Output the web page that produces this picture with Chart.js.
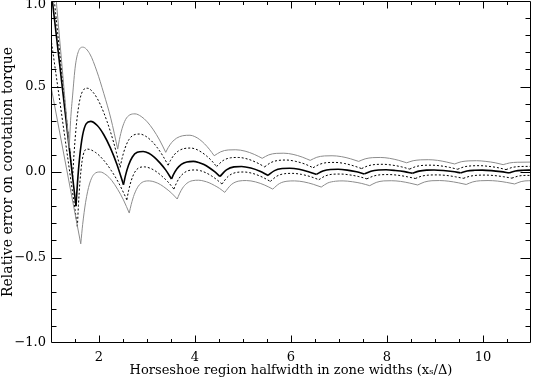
<!DOCTYPE html>
<html><head><meta charset="utf-8">
<script src="https://cdn.jsdelivr.net/npm/chart.js@4.4.1/dist/chart.umd.min.js"></script>
<style>html,body{margin:0;padding:0;background:#fff;}canvas{display:block;}</style>
</head><body>
<canvas id="c" width="533" height="378"></canvas>
<script>
// Tick labels
const xTickValues = [2, 4, 6, 8, 10];
const yTickValues = [-1, -0.5, 0, 0.5, 1];

// Upper grey curve
const G1_x = [1.0, 1.38, 1.408, 1.451, 1.507, 1.578, 1.663, 1.808, 1.954, 2.099, 2.245, 2.39, 2.426, 2.48, 2.552, 2.642, 2.75, 2.878, 3.006, 3.134, 3.262, 3.39, 3.44, 3.516, 3.617, 3.744, 3.895, 3.996, 4.097, 4.198, 4.299, 4.40, 4.535, 4.693, 4.85, 5.043, 5.235, 5.40, 5.535, 5.693, 5.85, 6.043, 6.235, 6.40, 6.537, 6.696, 6.855, 7.049, 7.244, 7.41, 7.545, 7.703, 7.86, 8.053, 8.245, 8.41, 8.545, 8.703, 8.86, 9.053, 9.245, 9.41, 9.547, 9.706, 9.865, 10.059, 10.254, 10.42, 10.555, 10.713, 11.0];
const G1_y = [1.35, 0.14, 0.300, 0.45, 0.62, 0.710, 0.73, 0.691, 0.59, 0.46, 0.315, 0.134, 0.190, 0.253, 0.306, 0.334, 0.34, 0.325, 0.293, 0.246, 0.187, 0.115, 0.142, 0.173, 0.198, 0.212, 0.215, 0.207, 0.190, 0.165, 0.133, 0.095, 0.118, 0.129, 0.13, 0.122, 0.103, 0.08, 0.100, 0.109, 0.11, 0.103, 0.087, 0.068, 0.086, 0.094, 0.095, 0.090, 0.077, 0.062, 0.077, 0.084, 0.085, 0.080, 0.068, 0.054, 0.066, 0.071, 0.072, 0.068, 0.058, 0.047, 0.060, 0.065, 0.066, 0.062, 0.054, 0.043, 0.053, 0.057, 0.058];

// Upper dashed curve
const D1_x = [1.0, 1.45, 1.481, 1.527, 1.588, 1.665, 1.757, 1.894, 2.030, 2.167, 2.303, 2.44, 2.481, 2.543, 2.625, 2.727, 2.85, 2.968, 3.086, 3.204, 3.322, 3.44, 3.488, 3.559, 3.654, 3.773, 3.915, 4.022, 4.129, 4.236, 4.343, 4.45, 4.585, 4.743, 4.90, 5.093, 5.285, 5.45, 5.587, 5.746, 5.905, 6.099, 6.294, 6.46, 6.597, 6.756, 6.915, 7.109, 7.304, 7.47, 7.605, 7.763, 7.92, 8.113, 8.305, 8.47, 8.605, 8.763, 8.92, 9.113, 9.305, 9.47, 9.607, 9.766, 9.925, 10.119, 10.314, 10.48, 10.615, 10.773, 11.0];
const D1_y = [1.19, -0.03, 0.111, 0.271, 0.404, 0.476, 0.49, 0.460, 0.393, 0.296, 0.175, 0.027, 0.080, 0.140, 0.190, 0.217, 0.222, 0.210, 0.184, 0.146, 0.098, 0.04, 0.067, 0.098, 0.123, 0.137, 0.14, 0.133, 0.117, 0.095, 0.067, 0.032, 0.067, 0.083, 0.085, 0.076, 0.055, 0.03, 0.056, 0.068, 0.07, 0.062, 0.046, 0.025, 0.045, 0.055, 0.056, 0.050, 0.036, 0.02, 0.036, 0.044, 0.045, 0.040, 0.030, 0.017, 0.032, 0.039, 0.04, 0.036, 0.027, 0.016, 0.030, 0.036, 0.037, 0.033, 0.025, 0.014, 0.027, 0.032, 0.033];

// Central solid curve
const C_x = [1.0, 1.52, 1.551, 1.597, 1.658, 1.735, 1.827, 1.964, 2.100, 2.237, 2.374, 2.51, 2.551, 2.613, 2.695, 2.797, 2.92, 3.038, 3.156, 3.274, 3.392, 3.51, 3.556, 3.624, 3.715, 3.829, 3.965, 4.076, 4.187, 4.298, 4.409, 4.52, 4.655, 4.813, 4.97, 5.163, 5.355, 5.52, 5.657, 5.816, 5.975, 6.169, 6.364, 6.53, 6.665, 6.823, 6.98, 7.173, 7.365, 7.53, 7.665, 7.823, 7.98, 8.173, 8.365, 8.53, 8.665, 8.823, 8.98, 9.173, 9.365, 9.53, 9.667, 9.826, 9.985, 10.179, 10.373, 10.54, 10.675, 10.833, 11.0];
const C_y = [1.07, -0.20, -0.066, 0.087, 0.214, 0.283, 0.296, 0.272, 0.218, 0.141, 0.044, -0.074, -0.021, 0.038, 0.088, 0.115, 0.12, 0.110, 0.086, 0.052, 0.011, -0.041, -0.013, 0.019, 0.045, 0.059, 0.062, 0.056, 0.044, 0.025, 0.002, -0.026, 0.012, 0.030, 0.032, 0.023, 0.004, -0.020, 0.008, 0.020, 0.022, 0.016, 0.002, -0.014, 0.006, 0.015, 0.016, 0.011, 0.001, -0.011, 0.005, 0.012, 0.013, 0.009, 0.002, -0.008, 0.005, 0.011, 0.012, 0.009, 0.003, -0.005, 0.006, 0.010, 0.011, 0.008, 0.002, -0.005, 0.006, 0.010, 0.011];

// Lower dashed curve
const D2_x = [1.0, 1.55, 1.571, 1.603, 1.645, 1.697, 1.76, 1.924, 2.088, 2.252, 2.416, 2.58, 2.616, 2.671, 2.743, 2.834, 2.943, 3.066, 3.19, 3.313, 3.437, 3.56, 3.605, 3.673, 3.763, 3.875, 4.01, 4.12, 4.23, 4.34, 4.45, 4.56, 4.697, 4.856, 5.015, 5.209, 5.404, 5.57, 5.707, 5.866, 6.025, 6.219, 6.414, 6.58, 6.715, 6.873, 7.03, 7.223, 7.415, 7.58, 7.717, 7.876, 8.035, 8.229, 8.424, 8.59, 8.725, 8.883, 9.04, 9.233, 9.425, 9.59, 9.727, 9.886, 10.045, 10.239, 10.434, 10.6, 10.735, 10.893, 11.0];
const D2_y = [0.78, -0.32, -0.197, -0.058, 0.059, 0.122, 0.134, 0.115, 0.072, 0.010, -0.067, -0.162, -0.110, -0.051, -0.002, 0.025, 0.03, 0.022, 0.003, -0.025, -0.058, -0.10, -0.070, -0.035, -0.007, 0.009, 0.012, 0.007, -0.005, -0.022, -0.044, -0.07, -0.024, -0.003, 0.0, -0.009, -0.030, -0.055, -0.024, -0.010, -0.008, -0.014, -0.028, -0.045, -0.023, -0.013, -0.012, -0.017, -0.027, -0.04, -0.024, -0.016, -0.015, -0.019, -0.028, -0.038, -0.024, -0.018, -0.017, -0.020, -0.028, -0.037, -0.025, -0.019, -0.018, -0.021, -0.028, -0.036, -0.024, -0.020, -0.020];

// Lower grey curve
const G2_x = [1.0, 1.62, 1.66, 1.721, 1.802, 1.903, 2.024, 2.145, 2.266, 2.388, 2.509, 2.63, 2.672, 2.735, 2.819, 2.924, 3.05, 3.166, 3.282, 3.398, 3.514, 3.63, 3.675, 3.741, 3.831, 3.942, 4.076, 4.185, 4.294, 4.402, 4.511, 4.62, 4.755, 4.913, 5.07, 5.263, 5.455, 5.62, 5.757, 5.916, 6.075, 6.269, 6.464, 6.63, 6.767, 6.926, 7.085, 7.279, 7.474, 7.64, 7.775, 7.933, 8.09, 8.283, 8.475, 8.64, 8.777, 8.936, 9.095, 9.289, 9.484, 9.65, 9.787, 9.946, 10.105, 10.299, 10.494, 10.66, 10.795, 10.953, 11.0];
const G2_y = [0.5, -0.42, -0.306, -0.177, -0.070, -0.011, 0.0, -0.016, -0.050, -0.101, -0.163, -0.24, -0.189, -0.131, -0.083, -0.057, -0.052, -0.059, -0.074, -0.097, -0.124, -0.158, -0.128, -0.094, -0.066, -0.051, -0.048, -0.053, -0.063, -0.078, -0.096, -0.119, -0.074, -0.053, -0.05, -0.058, -0.077, -0.10, -0.068, -0.054, -0.052, -0.058, -0.072, -0.088, -0.064, -0.054, -0.052, -0.057, -0.067, -0.08, -0.061, -0.052, -0.051, -0.055, -0.065, -0.076, -0.059, -0.051, -0.05, -0.054, -0.063, -0.073, -0.058, -0.051, -0.05, -0.053, -0.061, -0.07, -0.056, -0.051, -0.051];

const FONT = 'DejaVu Serif';
const FSIZE = 13;
const GRAY = '#8c8c8c';

// Split a curve at its cusps (local minima) so each arch is smoothed on its own
// while the cusps stay sharp.
function arches(xs, ys) {
  const segs = [];
  let cur = [{x: xs[0], y: ys[0]}];
  for (let i = 1; i < xs.length; i++) {
    const p = {x: xs[i], y: ys[i]};
    cur.push(p);
    const isCusp = i < xs.length - 1 && ys[i] < ys[i - 1] && ys[i] < ys[i + 1];
    if (isCusp) { segs.push(cur); cur = [p]; }
  }
  segs.push(cur);
  return segs;
}

const curves = [
  {xs: G1_x, ys: G1_y, color: GRAY, width: 1, dash: []},
  {xs: G2_x, ys: G2_y, color: GRAY, width: 1, dash: []},
  {xs: D1_x, ys: D1_y, color: '#000', width: 1, dash: [2, 2]},
  {xs: D2_x, ys: D2_y, color: '#000', width: 1, dash: [2, 2]},
  {xs: C_x, ys: C_y, color: '#000', width: 1.6, dash: []}
];
const datasets = [];
curves.forEach(c => {
  arches(c.xs, c.ys).forEach(seg => {
    datasets.push({
      data: seg, showLine: true, pointRadius: 0, pointHoverRadius: 0,
      cubicInterpolationMode: 'monotone', fill: false,
      borderColor: c.color, borderWidth: c.width, borderDash: c.dash
    });
  });
});

// Frame with inward ticks on all four sides
const framePlugin = {
  id: 'frame',
  afterDatasetsDraw(chart) {
    const ctx = chart.ctx, a = chart.chartArea;
    const xs = chart.scales.x, ys = chart.scales.y;
    const L = Math.round(a.left) + 0.5, R = Math.round(a.right) - 0.5;
    const T = Math.round(a.top) + 0.5, B = Math.round(a.bottom) - 0.5;
    ctx.save();
    ctx.strokeStyle = '#000';
    ctx.lineWidth = 1;
    ctx.setLineDash([]);
    ctx.beginPath();
    ctx.rect(L, T, R - L, B - T);
    for (let i = 3; i <= 21; i++) {
      const v = i / 2;
      const major = xTickValues.indexOf(v) >= 0;
      const len = major ? 7 : 3.5;
      const px = Math.round(xs.getPixelForValue(v)) + 0.5;
      ctx.moveTo(px, B); ctx.lineTo(px, B - len);
      ctx.moveTo(px, T); ctx.lineTo(px, T + len);
    }
    for (let i = -9; i <= 9; i++) {
      const v = i / 10;
      const major = (i % 5 === 0);
      const len = major ? 10 : 5;
      const py = Math.round(ys.getPixelForValue(v)) + 0.5;
      ctx.moveTo(L, py); ctx.lineTo(L + len, py);
      ctx.moveTo(R, py); ctx.lineTo(R - len, py);
    }
    ctx.stroke();
    ctx.restore();
  }
};

const yLabel = v => (v < 0 ? '\u2212' : '') + Math.abs(v).toFixed(1);

new Chart(document.getElementById('c'), {
  type: 'scatter',
  data: {datasets: datasets},
  options: {
    responsive: false,
    animation: false,
    devicePixelRatio: 1,
    events: [],
    layout: {padding: {top: 1, right: 2, left: 0, bottom: 0}},
    plugins: {legend: {display: false}, tooltip: {enabled: false}},
    scales: {
      x: {
        type: 'linear', min: 1, max: 11,
        afterBuildTicks: s => { s.ticks = xTickValues.map(v => ({value: v})); },
        afterFit: s => { s.height = 35; s.paddingLeft = 0; s.paddingRight = 0; },
        grid: {display: false, drawTicks: false},
        border: {display: false},
        ticks: {font: {family: FONT, size: FSIZE}, color: '#000', padding: 7, maxRotation: 0, autoSkip: false,
                callback: v => String(v)},
        title: {display: true, text: 'Horseshoe region halfwidth in zone widths (x\u209b/\u0394)',
                font: {family: FONT, size: FSIZE}, color: '#000', padding: {top: 0, bottom: 0}}
      },
      y: {
        type: 'linear', min: -1, max: 1,
        afterBuildTicks: s => { s.ticks = yTickValues.map(v => ({value: v})); },
        afterFit: s => { s.width = 51; s.paddingTop = 0; s.paddingBottom = 0; },
        grid: {display: false, drawTicks: false},
        border: {display: false},
        ticks: {
          color: '#000', padding: 5, autoSkip: false,
          // keep the top label inside the picture, as in the original figure
          font: ctx => ({family: FONT, size: FSIZE,
                         lineHeight: (ctx.tick && ctx.tick.value === 1) ? 0.6 : 1.2}),
          callback: v => v === 1 ? ['', yLabel(v)] : yLabel(v)
        },
        title: {display: true, text: 'Relative error on corotation torque',
                font: {family: FONT, size: 14}, color: '#000', padding: {top: 0, bottom: 0}}
      }
    }
  },
  plugins: [framePlugin]
});
</script>
</body></html>
